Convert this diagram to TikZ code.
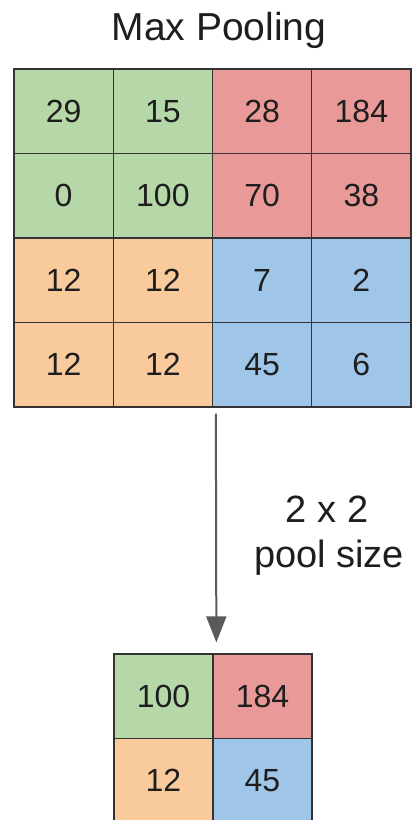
\documentclass[tikz,border=0pt]{standalone}
\usepackage{fontspec}
\setmainfont{Liberation Sans}
\usetikzlibrary{arrows.meta,calc}
\definecolor{cgreen}{HTML}{B6D7A8}
\definecolor{cred}{HTML}{EA9999}
\definecolor{corange}{HTML}{F9CB9C}
\definecolor{cblue}{HTML}{9FC5E8}
\definecolor{lineC}{HTML}{333333}
\definecolor{arrowC}{HTML}{5A5A5A}
\definecolor{txtC}{HTML}{1E1E1E}
\begin{document}
\begin{tikzpicture}[x=1pt,y=-1pt,
  cell/.style={draw=lineC, line width=1.3pt, minimum width=99.25pt, minimum height=84.5pt,
    inner sep=0pt, font=\fontsize{32}{36}\selectfont, text=txtC},
  g/.style={cell, fill=cgreen}, r/.style={cell, fill=cred},
  o/.style={cell, fill=corange}, b/.style={cell, fill=cblue},
  lbl/.style={font=\fontsize{38}{42}\selectfont, text=txtC, inner sep=0pt, anchor=base},
  arr/.style={draw=arrowC, line width=2pt, -{Triangle[length=26pt,width=20pt]}}]
\useasboundingbox (0,0) rectangle (413,820);
\clip (0,0) rectangle (413,820);
\fill[white] (0,0) rectangle (413,820);
\node[lbl, font=\fontsize{39}{42}\selectfont] (title) at (219,40) {Max Pooling};
% top grid
\node[g] (t11) at (63.625,111.25) {29};
\node[g] (t12) at (162.875,111.25) {15};
\node[r] (t13) at (262.125,111.25) {28};
\node[r] (t14) at (361.375,111.25) {184};
\node[g] (t21) at (63.625,195.75) {0};
\node[g] (t22) at (162.875,195.75) {100};
\node[r] (t23) at (262.125,195.75) {70};
\node[r] (t24) at (361.375,195.75) {38};
\node[o] (t31) at (63.625,280.25) {12};
\node[o] (t32) at (162.875,280.25) {12};
\node[b] (t33) at (262.125,280.25) {7};
\node[b] (t34) at (361.375,280.25) {2};
\node[o] (t41) at (63.625,364.75) {12};
\node[o] (t42) at (162.875,364.75) {12};
\node[b] (t43) at (262.125,364.75) {45};
\node[b] (t44) at (361.375,364.75) {6};
% bottom grid
\node[g, minimum width=99pt] (p11) at (163.5,696.25) {100};
\node[r, minimum width=99pt] (p12) at (262.5,696.25) {184};
\node[o, minimum width=99pt] (p21) at (163.5,780.75) {12};
\node[b, minimum width=99pt] (p22) at (262.5,780.75) {45};
% arrow
\coordinate (a1) at ($(t43.south west)+(4,6)$);
\coordinate (a2) at ($(p12.north west)+(4,-11)$);
\draw[arr] (a1) -- (a2);
\node[lbl] (l1) at (327,522) {2 x 2};
\node[lbl] (l2) at (329,567) {pool size};
\end{tikzpicture}
\end{document}
